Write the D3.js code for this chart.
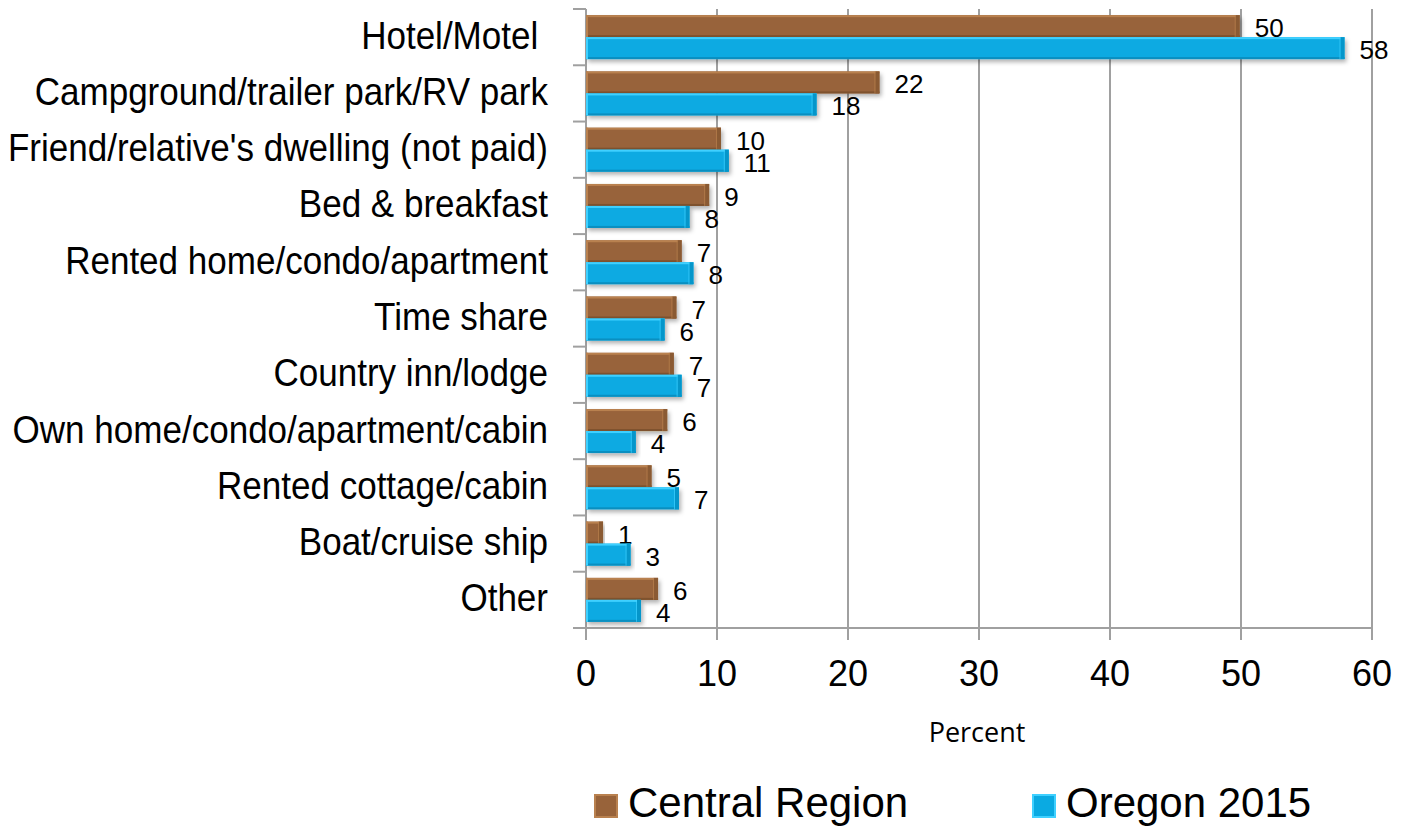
<!DOCTYPE html>
<html>
<head>
<meta charset="utf-8">
<script src="https://cdn.jsdelivr.net/npm/d3@7"></script>
<style>
  body { margin: 0; background: #fff; }
  svg text { white-space: pre; }
</style>
</head>
<body>
<div id="chart"></div>
<script>
// Chart data
const categories = [
    'Hotel/Motel ',
    'Campground/trailer park/RV park',
    "Friend/relative's dwelling (not paid)",
    'Bed & breakfast',
    'Rented home/condo/apartment',
    'Time share',
    'Country inn/lodge',
    'Own home/condo/apartment/cabin',
    'Rented cottage/cabin',
    'Boat/cruise ship',
    'Other'
];
const seriesNames = ['Central Region', 'Oregon 2015'];
const centralValues = [49.9, 22.4, 10.3, 9.4, 7.3, 6.9, 6.7, 6.2, 5.0, 1.3, 5.5];
const oregonValues = [57.9, 17.6, 10.9, 7.9, 8.2, 6.0, 7.3, 3.8, 7.1, 3.4, 4.2];
const xTicks = [0, 10, 20, 30, 40, 50, 60];

const W = 1403, H = 829;
const COLORS = [
    { main: '#98633A', top: '#B9814F', bottom: '#7E522E', end: '#8A5A33' },
    { main: '#0AAAE2', top: '#3FD0FF', bottom: '#0A8FC0', end: '#0596CA' }
];
const GRID = '#A0A0A0';

const svg = d3.select('#chart').append('svg')
    .attr('width', W)
    .attr('height', H)
    .style('font-family', '"Liberation Sans", Arial, sans-serif');

// soft shadow under the bars
const defs = svg.append('defs');
defs.append('filter')
    .attr('id', 'shadow')
    .attr('x', '-5%').attr('y', '-30%').attr('width', '115%').attr('height', '180%')
    .append('feDropShadow')
    .attr('dx', 2).attr('dy', 3).attr('stdDeviation', 2)
    .attr('flood-color', '#000').attr('flood-opacity', 0.3);

const x = d3.scaleLinear().domain([0, 60]).range([586, 1372]);
const y0 = d3.scaleBand().domain(categories).range([9, 628]);
const y1 = d3.scaleBand().domain(seriesNames).range([0, y0.bandwidth()]).paddingOuter(0.28);

// vertical grid lines
svg.append('g').selectAll('line')
    .data(xTicks.slice(1))
    .join('line')
    .attr('x1', d => x(d)).attr('x2', d => x(d))
    .attr('y1', 9).attr('y2', 640)
    .attr('stroke', GRID).attr('stroke-width', 2);

// axes
const axisG = svg.append('g');
axisG.append('line')
    .attr('x1', x(0)).attr('x2', x(0)).attr('y1', 9).attr('y2', 640)
    .attr('stroke', GRID).attr('stroke-width', 2);
axisG.append('line')
    .attr('x1', 573).attr('x2', x(60)).attr('y1', 628).attr('y2', 628)
    .attr('stroke', GRID).attr('stroke-width', 2);
axisG.selectAll('.ytick')
    .data(categories)
    .join('line')
    .attr('class', 'ytick')
    .attr('x1', 573).attr('x2', x(0))
    .attr('y1', d => y0(d)).attr('y2', d => y0(d))
    .attr('stroke', GRID).attr('stroke-width', 2);

// tick labels
svg.append('g').selectAll('text')
    .data(xTicks)
    .join('text')
    .attr('x', d => x(d))
    .attr('y', 686)
    .attr('text-anchor', 'middle')
    .style('font-size', '36px')
    .attr('fill', '#000')
    .text(d => d);

// category labels
svg.append('g').selectAll('text')
    .data(categories)
    .join('text')
    .attr('transform', d => `translate(548,${y0(d) + y0.bandwidth() / 2 + 11.5}) scale(0.91,1)`)
    .attr('text-anchor', 'end')
    .style('font-size', '38.5px')
    .attr('fill', '#000')
    .text(d => d);

// bars
const rows = categories.map((c, i) => ({
    cat: c,
    vals: [
        { s: 0, name: seriesNames[0], v: centralValues[i] },
        { s: 1, name: seriesNames[1], v: oregonValues[i] }
    ]
}));

const groups = svg.append('g').selectAll('g')
    .data(rows)
    .join('g')
    .attr('transform', d => `translate(0,${y0(d.cat)})`);

const bar = groups.selectAll('g.bar')
    .data(d => d.vals)
    .join('g')
    .attr('class', 'bar')
    .attr('transform', d => `translate(${x(0)},${y1(d.name)})`);

const bh = y1.bandwidth();

bar.append('rect')
    .attr('width', d => x(d.v) - x(0))
    .attr('height', bh)
    .attr('fill', d => COLORS[d.s].main)
    .attr('filter', 'url(#shadow)');
// bevel: top highlight, bottom dark, right end face
bar.append('rect')
    .attr('width', d => x(d.v) - x(0))
    .attr('height', 2)
    .attr('fill', d => COLORS[d.s].top);
bar.append('rect')
    .attr('y', bh - 2)
    .attr('width', d => x(d.v) - x(0))
    .attr('height', 2)
    .attr('fill', d => COLORS[d.s].bottom);
bar.append('rect')
    .attr('width', 2)
    .attr('height', bh)
    .attr('fill', d => COLORS[d.s].top);
bar.append('rect')
    .attr('x', d => Math.max(0, x(d.v) - x(0) - 4))
    .attr('width', d => Math.min(4, x(d.v) - x(0)))
    .attr('height', bh)
    .attr('fill', d => COLORS[d.s].end);
bar.append('rect')
    .attr('x', d => Math.max(0, x(d.v) - x(0) - 5))
    .attr('width', 1)
    .attr('height', bh)
    .attr('fill', d => COLORS[d.s].top)
    .attr('opacity', 0.7);

// value labels
bar.append('text')
    .attr('x', d => x(d.v) - x(0) + 15)
    .attr('y', bh / 2 + 11)
    .style('font-size', '26px')
    .attr('fill', '#000')
    .text(d => Math.round(d.v));

// x axis title
svg.append('text')
    .attr('x', 977)
    .attr('y', 742)
    .attr('text-anchor', 'middle')
    .style('font-family', '"Open Sans", sans-serif')
    .style('font-size', '27px')
    .attr('fill', '#000')
    .text('Percent');

// legend
const legendX = [595, 1033];
const leg = svg.append('g').selectAll('g')
    .data(seriesNames)
    .join('g')
    .attr('transform', (d, i) => `translate(${legendX[i]},795)`);
leg.append('rect')
    .attr('width', 22).attr('height', 22)
    .attr('fill', (d, i) => COLORS[i].main)
    .attr('stroke', (d, i) => COLORS[i].top)
    .attr('stroke-width', 2);
leg.append('text')
    .attr('x', 33)
    .attr('y', 22)
    .style('font-size', '42px')
    .attr('fill', '#000')
    .text(d => d);
</script>
</body>
</html>
